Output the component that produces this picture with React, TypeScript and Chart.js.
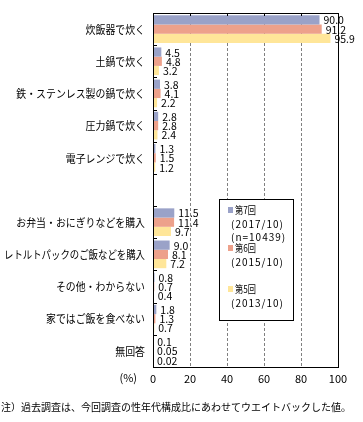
import React, { useEffect, useRef } from "react";
import { Chart, registerables } from "chart.js";

Chart.register(...registerables);

const categories = [
  "炊飯器で炊く",
  "土鍋で炊く",
  "鉄・ステンレス製の鍋で炊く",
  "圧力鍋で炊く",
  "電子レンジで炊く",
  "",
  "お弁当・おにぎりなどを購入",
  "レトルトパックのご飯などを購入",
  "その他・わからない",
  "家ではご飯を食べない",
  "無回答",
];

const series7 = [90.0, 4.5, 3.8, 2.8, 1.3, null, 11.5, 9.0, 0.8, 1.8, 0.1];
const series6 = [91.2, 4.8, 4.1, 2.8, 1.5, null, 11.4, 8.1, 0.7, 1.3, 0.05];
const series5 = [95.9, 3.2, 2.2, 2.4, 1.2, null, 9.7, 7.2, 0.4, 0.7, 0.02];

const seriesNames = ["第7回", "第6回", "第5回"];
const seriesSub = [["(2017/10)", "(n=10439)"], ["(2015/10)"], ["(2013/10)"]];
const seriesColors = ["#9aa2c8", "#eda18b", "#ffe699"];

const xTicks = [0, 20, 40, 60, 80, 100];
const unitLabel = "(%)";
const footnote = "注）過去調査は、今回調査の性年代構成比にあわせてウエイトバックした値。";

const FONT = "'Noto Sans CJK JP', 'Noto Sans', sans-serif";

const fmt = (v: number) => (v < 0.1 ? v.toFixed(2) : v.toFixed(1));

const decorPlugin = {
  id: "decor",
  afterDatasetsDraw(chart: any) {
    const ctx = chart.ctx;
    const { left, right, top, bottom } = chart.chartArea;
    ctx.save();
    // data labels
    ctx.font = `10.5px ${FONT}`;
    ctx.fillStyle = "#000";
    ctx.textAlign = "left";
    ctx.textBaseline = "middle";
    chart.data.datasets.forEach((ds: any, di: number) => {
      const meta = chart.getDatasetMeta(di);
      meta.data.forEach((el: any, i: number) => {
        const v = ds.data[i];
        if (v === null || v === undefined) return;
        ctx.fillText(fmt(v), el.x + 4, el.y + 0.5);
      });
    });
    // box border
    ctx.strokeStyle = "#000";
    ctx.lineWidth = 1;
    ctx.setLineDash([]);
    ctx.strokeRect(Math.round(left) + 0.5, Math.round(top) + 0.5, Math.round(right - left), Math.round(bottom - top));
    // top inner ticks
    const xs = chart.scales.x;
    xTicks.slice(1, -1).forEach((t) => {
      const px = Math.round(xs.getPixelForValue(t)) + 0.5;
      ctx.beginPath();
      ctx.moveTo(px, top);
      ctx.lineTo(px, top + 3);
      ctx.stroke();
    });
    // left inner ticks at category boundaries
    const n = categories.length;
    for (let i = 1; i < n; i++) {
      const py = Math.round(top + ((bottom - top) * i) / n) + 0.5;
      ctx.beginPath();
      ctx.moveTo(left, py);
      ctx.lineTo(left + 4, py);
      ctx.stroke();
    }
    // category labels (condensed)
    const ys = chart.scales.y;
    ctx.font = `11px ${FONT}`;
    ctx.textAlign = "right";
    ctx.fillStyle = "#000";
    categories.forEach((c, i) => {
      if (!c) return;
      const py = ys.getPixelForTick(i);
      const w = ctx.measureText(c).width;
      ctx.fillText(c, left - 8, py + 0.5, Math.min(w * 0.9, 141));
    });
    ctx.restore();
  },
  afterDraw(chart: any) {
    const ctx = chart.ctx;
    const { left, bottom } = chart.chartArea;
    ctx.save();
    // legend box
    const bx = Math.round(left) + 66;
    const by = 199;
    const bw = 74;
    const bh = 121;
    ctx.fillStyle = "#fff";
    ctx.fillRect(bx, by, bw, bh);
    ctx.strokeStyle = "#000";
    ctx.lineWidth = 1;
    ctx.strokeRect(bx + 0.5, by + 0.5, bw, bh);
    const entryTops = [11, 49, 90];
    ctx.textBaseline = "middle";
    ctx.textAlign = "left";
    ctx.font = `10px ${FONT}`;
    seriesNames.forEach((name, i) => {
      const y = by + entryTops[i];
      ctx.fillStyle = seriesColors[i];
      ctx.fillRect(bx + 9, y - 3, 5, 6);
      ctx.fillStyle = "#000";
      (ctx as any).letterSpacing = "0px";
      ctx.fillText(name, bx + 16, y, 21);
      (ctx as any).letterSpacing = "1px";
      seriesSub[i].forEach((s, j) => {
        ctx.fillText(s, bx + 12, y + 14 + j * 13.5);
      });
    });
    (ctx as any).letterSpacing = "0px";
    // unit label
    ctx.font = `11px ${FONT}`;
    ctx.textAlign = "right";
    ctx.fillText(unitLabel, 137, bottom + 11);
    // footnote
    ctx.textAlign = "left";
    ctx.font = `10px ${FONT}`;
    ctx.fillText(footnote, 1, 407);
    ctx.restore();
  },
};

export default function App() {
  const ref = useRef<HTMLCanvasElement>(null);
  useEffect(() => {
    if (!ref.current) return;
    const data = [series7, series6, series5];
    const chart = new Chart(ref.current, {
      type: "bar",
      data: {
        labels: categories,
        datasets: data.map((d, i) => ({
          label: seriesNames[i],
          data: d,
          backgroundColor: seriesColors[i],
          borderWidth: 0,
          categoryPercentage: 0.86,
          barPercentage: 1,
        })),
      },
      options: {
        indexAxis: "y",
        animation: false,
        responsive: false,
        devicePixelRatio: 1,
        layout: { padding: { top: 13, right: 25, left: 0, bottom: 0 } },
        plugins: { legend: { display: false }, tooltip: { enabled: false } },
        scales: {
          x: {
            min: 0,
            max: 100,
            afterBuildTicks: (s: any) => {
              s.ticks = xTicks.map((v) => ({ value: v }));
            },
            afterFit: (s: any) => {
              s.height = 55;
            },
            ticks: {
              font: { size: 11, family: FONT },
              color: "#000",
              padding: 5,
              maxRotation: 0,
            },
            grid: {
              drawTicks: false,
              color: (c: any) =>
                c.tick && (c.tick.value === 0 || c.tick.value === 100) ? "rgba(0,0,0,0)" : "#808080",
            },
            border: { display: false, dash: [3, 2] },
          },
          y: {
            afterFit: (s: any) => {
              s.width = 153;
            },
            ticks: { display: false, autoSkip: false },
            grid: { display: false, drawTicks: false },
            border: { display: false },
          },
        },
      },
      plugins: [decorPlugin],
    } as any);
    return () => chart.destroy();
  }, []);
  return (
    <div style={{ position: "fixed", left: 0, top: 0, width: 363, height: 422, background: "#fff" }}>
      <canvas ref={ref} width={363} height={422} style={{ width: 363, height: 422 }} />
    </div>
  );
}
